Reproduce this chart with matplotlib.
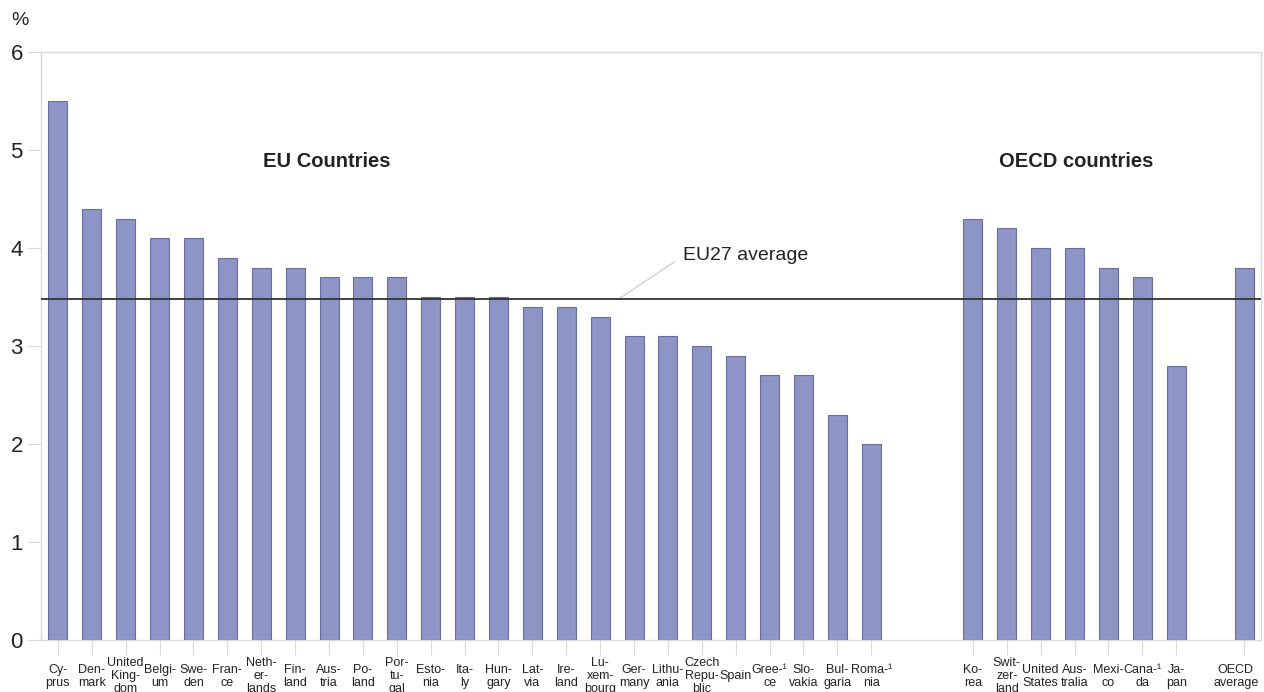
import matplotlib
matplotlib.use("Agg")
import matplotlib.pyplot as plt

plt.rcParams['font.family'] = ['Liberation Sans', 'DejaVu Sans']

# data: EU countries, two empty slots, OECD countries, one empty slot, OECD average
labels = ["Cy-\nprus", "Den-\nmark", "United\nKing-\ndom", "Belgi-\num", "Swe-\nden",
          "Fran-\nce", "Neth-\ner-\nlands", "Fin-\nland", "Aus-\ntria", "Po-\nland",
          "Por-\ntu-\ngal", "Esto-\nnia", "Ita-\nly", "Hun-\ngary", "Lat-\nvia",
          "Ire-\nland", "Lu-\nxem-\nbourg", "Ger-\nmany", "Lithu-\nania", "Czech\nRepu-\nblic",
          "Spain", "Gree-¹\nce", "Slo-\nvakia", "Bul-\ngaria", "Roma-¹\nnia",
          "", "",
          "Ko-\nrea", "Swit-\nzer-\nland", "United\nStates", "Aus-\ntralia", "Mexi-\nco",
          "Cana-¹\nda", "Ja-\npan",
          "",
          "OECD\naverage"]
values = [5.5, 4.4, 4.3, 4.1, 4.1, 3.9, 3.8, 3.8, 3.7, 3.7,
          3.7, 3.5, 3.5, 3.5, 3.4, 3.4, 3.3, 3.1, 3.1, 3.0,
          2.9, 2.7, 2.7, 2.3, 2.0,
          None, None,
          4.3, 4.2, 4.0, 4.0, 3.8, 3.7, 2.8,
          None,
          3.8]
eu27_average = 3.48

tick_len = 11
tick_pad = 15

fig = plt.figure(figsize=(12.64, 6.92), dpi=100)
ax = fig.add_axes([0.0324, 0.0751, 0.9652, 0.8498])

xpos = [i for i, v in enumerate(values) if v is not None]
heights = [v for v in values if v is not None]
xlabels = [labels[i] for i in xpos]
ax.bar(xpos, heights, width=0.56, color='#8d94c6', edgecolor='#6a6e9c', linewidth=0.8, zorder=3)

ax.axhline(eu27_average, color='#333333', linewidth=1.3, zorder=4)
# leader line for the average label
ax.plot([16.55, 18.2], [eu27_average, 3.86], color='#c8c8c8', linewidth=0.8, zorder=2)
ax.text(18.45, 3.92, "EU27 average", fontsize=14, color='#222222', va='center', ha='left')

ax.text(7.92, 4.88, "EU Countries", fontsize=14.5, fontweight='bold', ha='center', va='center', color='#222222')
ax.text(30.06, 4.88, "OECD countries", fontsize=14.5, fontweight='bold', ha='center', va='center', color='#222222')

ax.set_xlim(-0.5, 35.5)
ax.set_ylim(0, 6)
ax.set_yticks(range(0, 7))
ax.set_xticks(xpos)
# last label sits against the right edge: drawn separately, nudged left
ax.set_xticklabels(xlabels[:-1] + [""], fontsize=9, linespacing=1.12)
plt.setp(ax.get_xticklabels(), va='center')
ax.annotate(xlabels[-1], xy=(xpos[-1], 0), xycoords=('data', 'axes fraction'),
            xytext=(-6, -(tick_len + tick_pad)), textcoords='offset points',
            ha='center', va='center', fontsize=9, linespacing=1.12, color='#222222',
            annotation_clip=False)
ax.tick_params(axis='y', labelsize=16, length=10, color='#d9d9d9', pad=3, labelcolor='#222222')
ax.tick_params(axis='x', length=tick_len, color='#d9d9d9', pad=tick_pad, labelcolor='#222222')
for s in ax.spines.values():
    s.set_color('#d9d9d9')
    s.set_linewidth(1.0)

fig.text(0.009, 0.97, "%", fontsize=14, color='#222222', va='center')

plt.savefig("out.png", dpi=100)
plt.close()
